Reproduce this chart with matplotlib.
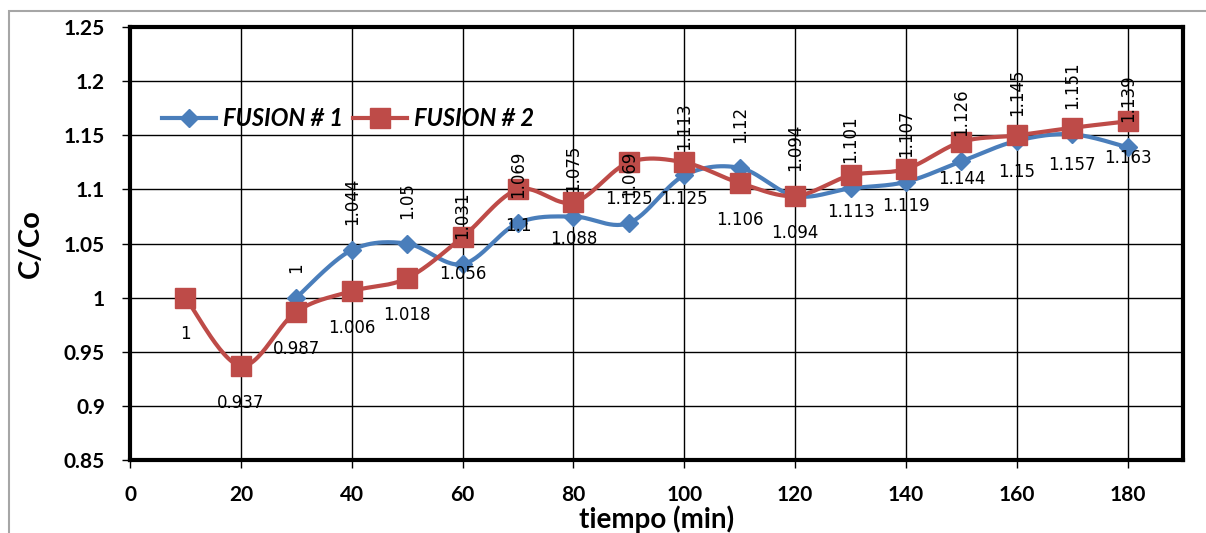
import numpy as np
import matplotlib.pyplot as plt
from matplotlib.patches import Rectangle

# data
t1 = [30, 40, 50, 60, 70, 80, 90, 100, 110, 120, 130, 140, 150, 160, 170, 180]
f1 = [1, 1.044, 1.05, 1.031, 1.069, 1.075, 1.069, 1.113, 1.12, 1.094,
      1.101, 1.107, 1.126, 1.145, 1.151, 1.139]
t2 = [10, 20, 30, 40, 50, 60, 70, 80, 90, 100, 110, 120, 130, 140, 150,
      160, 170, 180]
f2 = [1, 0.937, 0.987, 1.006, 1.018, 1.056, 1.1, 1.088, 1.125, 1.125,
      1.106, 1.094, 1.113, 1.119, 1.144, 1.15, 1.157, 1.163]

blue = '#4a7ebb'
red = '#be4b48'


# excel-like smoothed line (bezier through points)
def smooth(x, y, n=30):
    x = np.asarray(x, float)
    y = np.asarray(y, float)
    px = np.concatenate([[x[0]], x, [x[-1]]])
    py = np.concatenate([[y[0]], y, [y[-1]]])
    xs, ys = [], []
    s = np.linspace(0, 1, n)
    for i in range(len(x) - 1):
        p0 = np.array([px[i + 1], py[i + 1]])
        p3 = np.array([px[i + 2], py[i + 2]])
        c1 = p0 + (p3 - np.array([px[i], py[i]])) / 6
        c2 = p3 - (np.array([px[i + 3], py[i + 3]]) - p0) / 6
        b = ((1 - s) ** 3)[:, None] * p0 + (3 * (1 - s) ** 2 * s)[:, None] * c1 \
            + (3 * (1 - s) * s ** 2)[:, None] * c2 + (s ** 3)[:, None] * p3
        xs.append(b[:, 0])
        ys.append(b[:, 1])
    return np.concatenate(xs), np.concatenate(ys)


fig = plt.figure(figsize=(12.06, 5.33), dpi=100)
ax = fig.add_axes([0.1078, 0.137, 0.8732, 0.812])

fig.patches.append(Rectangle((9 / 1206, -0.05), 1.2, 1 - 11 / 533 + 0.05,
                             transform=fig.transFigure, fill=False,
                             edgecolor='#a6a6a6', linewidth=1.5))

sx, sy = smooth(t1, f1)
ax.plot(sx, sy, color=blue, lw=3, zorder=3)
ax.plot(t1, f1, ls='none', marker='D', ms=9, color=blue, zorder=4)
sx, sy = smooth(t2, f2)
ax.plot(sx, sy, color=red, lw=3, zorder=3)
ax.plot(t2, f2, ls='none', marker='s', ms=14, color=red, zorder=4)

# legend proxies
ax.plot([], [], color=blue, lw=3, marker='D', ms=9, label='FUSION # 1')
ax.plot([], [], color=red, lw=3, marker='s', ms=14, label='FUSION # 2')

for x, y in zip(t1, f1):
    ax.annotate(f'{y:g}', (x, y), xytext=(0, 18), textcoords='offset points',
                rotation=90, ha='center', va='bottom', fontsize=12, zorder=5)
for x, y in zip(t2, f2):
    ax.annotate(f'{y:g}', (x, y), xytext=(0, -20), textcoords='offset points',
                ha='center', va='top', fontsize=12, zorder=5)

ax.set_xlim(0, 190)
ax.set_ylim(0.85, 1.25)
ax.set_xticks(range(0, 181, 20))
ax.set_yticks(np.arange(0.85, 1.2501, 0.05))
ax.set_yticklabels(['0.85', '0.9', '0.95', '1', '1.05', '1.1', '1.15', '1.2', '1.25'])
ax.grid(True, color='black', lw=1)
ax.set_axisbelow(True)
for sp in ax.spines.values():
    sp.set_linewidth(3)
ax.tick_params(direction='out', length=6, width=1, labelsize=15, pad=12)
for lab in ax.get_xticklabels() + ax.get_yticklabels():
    lab.set_fontweight('bold')
    lab.set_family('Lato')
ax.set_xlabel('tiempo (min)', fontsize=20, fontweight='bold', family='Lato',
              labelpad=0)
ax.set_ylabel('C/Co', fontsize=21, fontweight='bold', family='Lato', labelpad=14)

ax.legend(loc='upper left', bbox_to_anchor=(0.01, 0.865), ncol=2, frameon=False,
          prop={'size': 17, 'weight': 'bold', 'style': 'italic', 'family': 'Lato'},
          handlelength=2.3, columnspacing=0.4, handletextpad=0.3)

fig.savefig('out.png', dpi=100)
